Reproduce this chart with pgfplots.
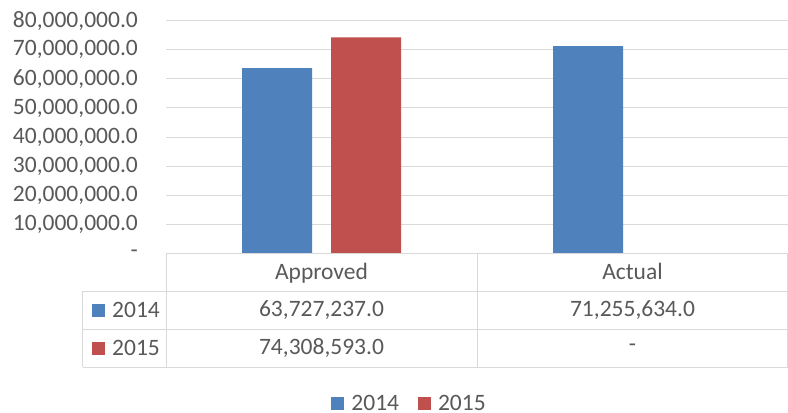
\documentclass[border=0pt]{standalone}
\usepackage{pgfplots}
\pgfplotsset{compat=1.18}
\usepackage{fontspec}
\setmainfont{Carlito}
\definecolor{cblue}{HTML}{4F81BD}
\definecolor{cred}{HTML}{C0504D}
\definecolor{cgrid}{HTML}{D9D9D9}
\definecolor{ctext}{HTML}{595959}
\newcommand{\cf}{\fontsize{23.5bp}{27bp}\selectfont}
\begin{document}
\begin{tikzpicture}[x=1bp,y=1bp,font=\cf]
\useasboundingbox (-166,-158.7) rectangle (622,253.3);
\begin{axis}[
  at={(0,0)}, anchor=south west,
  scale only axis, width=622bp, height=232.6bp,
  xmin=-0.5, xmax=1.5, ymin=0, ymax=80000000,
  ybar=19bp, bar width=70bp,
  axis line style={draw=none}, tick style={draw=none},
  xtick=\empty,
  scaled y ticks=false,
  ytick={0,10000000,20000000,30000000,40000000,50000000,60000000,70000000,80000000},
  yticklabels={-,{10,000,000.0},{20,000,000.0},{30,000,000.0},{40,000,000.0},{50,000,000.0},{60,000,000.0},{70,000,000.0},{80,000,000.0}},
  yticklabel style={anchor=east, inner sep=0pt, xshift=-28bp, text=ctext, font=\cf},
  ymajorgrids, major grid style={cgrid, line width=1bp},
  legend style={at={(0.39,-0.645)}, anchor=center, draw=none, legend columns=2,
    font=\cf, text=ctext, inner sep=0pt, nodes={inner sep=0pt, text depth=0pt},
    /tikz/every odd column/.append style={column sep=7bp},
    /tikz/every even column/.append style={column sep=19bp}},
  legend image code/.code={\fill[#1] (0bp,-6.5bp) rectangle (13bp,6.5bp);},
]
\addplot[fill=cblue, draw=none] coordinates {(0,63727237) (1,71255634)};
\addplot[fill=cred, draw=none] coordinates {(0,74308593) (1,0)};
\legend{2014,2015}
\end{axis}
% data table
\begin{scope}[cgrid, line width=1bp]
\draw (0,-0.5) -- (622,-0.5);
\draw (-83,-37.7) -- (622,-37.7);
\draw (-83,-75.7) -- (622,-75.7);
\draw (-83,-113.7) -- (622,-113.7);
\draw (-83,-37.7) -- (-83,-113.7);
\draw (0,0) -- (0,-113.7);
\draw (311,0) -- (311,-113.7);
\draw (621.5,0) -- (621.5,-113.7);
\end{scope}
\begin{scope}[every node/.style={text=ctext, inner sep=0pt}]
\node[anchor=base] at (155.5,-26.5) {Approved};
\node[anchor=base] at (466.5,-26.5) {Actual};
\node[anchor=center] at (155.5,-56.7) {63,727,237.0};
\node[anchor=center] at (466.5,-56.7) {71,255,634.0};
\node[anchor=center] at (155.5,-94.7) {74,308,593.0};
\node[anchor=center] at (466.5,-94.7) {-};
\fill[cblue] (-74,-63.2) rectangle (-61,-50.2);
\fill[cred] (-74,-101.2) rectangle (-61,-88.2);
\node[anchor=west] at (-54,-56.7) {2014};
\node[anchor=west] at (-54,-94.7) {2015};
\end{scope}
\end{tikzpicture}
\end{document}
